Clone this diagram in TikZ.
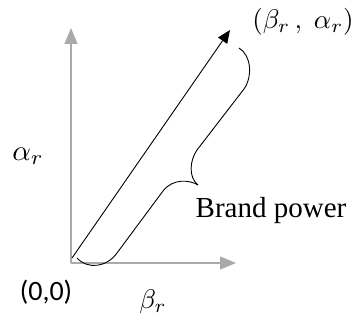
\documentclass[tikz,border=0pt]{standalone}
\usepackage{fontspec}
\setmainfont{Liberation Serif}
\newfontfamily\labelsans{Carlito}
\usetikzlibrary{arrows.meta}
\definecolor{axisgray}{RGB}{170,170,170}
\tikzset{
  axis/.style={draw=axisgray, line width=1.3pt, -{Triangle[length=16pt,width=13pt]}},
  vec/.style={draw=black, line width=0.9pt, -{Triangle[length=13pt,width=11pt]}},
  bracepath/.style={draw=black, line width=0.9pt},
  lbl/.style={inner sep=0pt, anchor=center}
}
\begin{document}
\begin{tikzpicture}[x=1pt,y=-1pt]
\useasboundingbox (0,0) rectangle (357,320);
\coordinate (O) at (72,258);
\coordinate (Oy) at (71,263);
\coordinate (Ytip) at (71,28);
\coordinate (Xtip) at (236,263);
\coordinate (P) at (230,30);
\draw[axis] (Oy) -- (Ytip);
\draw[axis] (Oy) -- (Xtip);
\draw[vec] (O) -- (P);
\coordinate (Btop) at (239,48);
\coordinate (Btip) at (198,185);
\coordinate (Bend) at (77,258);
\draw[bracepath] (Btop) .. controls (251,55) and (253,76) .. (244,89)
  -- (197,150) .. controls (190,160) and (188,177) .. (Btip);
\draw[bracepath] (Btip) .. controls (190,180) and (173,178) .. (163,191)
  -- (117,253) .. controls (107,267) and (88,270) .. (Bend);
\node[lbl, scale=2.7] (pt) at (303,22) {$(\beta_r\,,\;\alpha_r)$};
\node[lbl, scale=2.9] (ay) at (28,156) {$\alpha_r$};
\node[lbl, anchor=base, font=\fontsize{29}{34}\selectfont] (bp) at (271,218) {Brand power};
\node[lbl, font=\labelsans\fontsize{28}{33}\selectfont] (orig) at (46,292) {(0,0)};
\node[lbl, scale=2.7] (bx) at (153,302) {$\beta_r$};
\end{tikzpicture}
\end{document}
